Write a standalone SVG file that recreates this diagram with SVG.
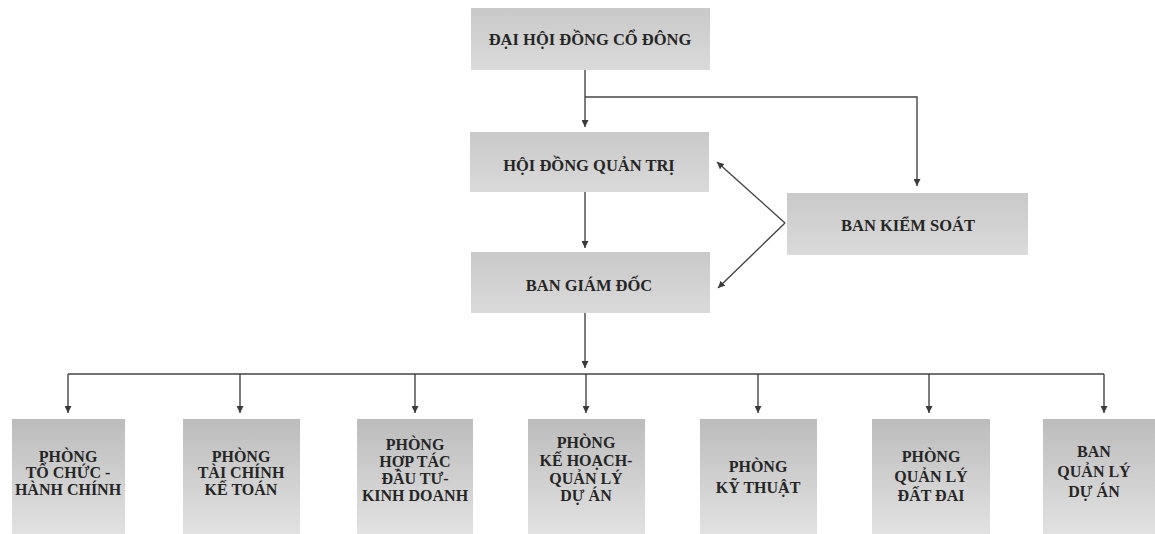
<svg xmlns="http://www.w3.org/2000/svg" width="1155" height="534" viewBox="0 0 1155 534">
<defs>
<linearGradient id="gTop" x1="0" y1="0" x2="0" y2="1">
<stop offset="0" stop-color="#c9c9c9"/>
<stop offset="1" stop-color="#dadada"/>
</linearGradient>
<linearGradient id="gBot" x1="0" y1="0" x2="0" y2="1">
<stop offset="0" stop-color="#bcbcbc"/>
<stop offset="1" stop-color="#e2e2e2"/>
</linearGradient>
<marker id="arr" viewBox="0 0 8 8" refX="8" refY="4" markerWidth="7" markerHeight="7" markerUnits="userSpaceOnUse" orient="auto">
<path d="M0,0 L8,4 L0,8 z" fill="#3a3a3a"/>
</marker>
</defs>
<style>
.box1{fill:url(#gTop);}
.box2{fill:url(#gBot);}
.t{font-family:"Liberation Serif","Times New Roman",serif;font-weight:bold;fill:#262626;text-anchor:middle;}
.tl{font-size:16.5px;}
.ts{font-size:16px;}
.c{fill:none;stroke:#444;stroke-width:1.4;}
</style>
<rect width="1155" height="534" fill="#ffffff"/>
<g id="connectors">
<path class="c" d="M585,70 L585,127" marker-end="url(#arr)"/>
<path class="c" d="M585,97 L917,97 L917,186" marker-end="url(#arr)"/>
<path class="c" d="M585,192 L585,248" marker-end="url(#arr)"/>
<path class="c" d="M785,223 L717,162" marker-end="url(#arr)"/>
<path class="c" d="M785,223 L718,288" marker-end="url(#arr)"/>
<path class="c" d="M585,313 L585,368" marker-end="url(#arr)"/>
<path class="c" d="M68,374 L1104,374"/>
<path class="c" d="M68,374 L68,413" marker-end="url(#arr)"/>
<path class="c" d="M240,374 L240,413" marker-end="url(#arr)"/>
<path class="c" d="M415,374 L415,413" marker-end="url(#arr)"/>
<path class="c" d="M586,374 L586,413" marker-end="url(#arr)"/>
<path class="c" d="M758,374 L758,413" marker-end="url(#arr)"/>
<path class="c" d="M929,374 L929,413" marker-end="url(#arr)"/>
<path class="c" d="M1104,374 L1104,413" marker-end="url(#arr)"/>
</g>
<g id="n-dhdcd">
<rect class="box1" x="471" y="8" width="239" height="62"/>
<text class="t tl" x="590" y="45">ĐẠI HỘI ĐỒNG CỔ ĐÔNG</text>
</g>
<g id="n-hdqt">
<rect class="box1" x="470" y="132" width="239" height="60"/>
<text class="t tl" x="589" y="171">HỘI ĐỒNG QUẢN TRỊ</text>
</g>
<g id="n-bks">
<rect class="box1" x="787" y="193" width="241" height="62"/>
<text class="t tl" x="908" y="231">BAN KIỂM SOÁT</text>
</g>
<g id="n-bgd">
<rect class="box1" x="471" y="252" width="239" height="61"/>
<text class="t tl" x="589" y="291">BAN GIÁM ĐỐC</text>
</g>
<g id="n-tchc">
<rect class="box2" x="12" y="419" width="113" height="115"/>
<text class="t ts" x="68" y="462">PHÒNG</text>
<text class="t ts" x="68" y="478">TỔ CHỨC -</text>
<text class="t ts" x="68" y="495">HÀNH CHÍNH</text>
</g>
<g id="n-tckt">
<rect class="box2" x="183" y="419" width="117" height="115"/>
<text class="t ts" x="241" y="462">PHÒNG</text>
<text class="t ts" x="241" y="478">TÀI CHÍNH</text>
<text class="t ts" x="241" y="495">KẾ TOÁN</text>
</g>
<g id="n-htdt">
<rect class="box2" x="357" y="419" width="116" height="115"/>
<text class="t ts" x="415" y="450">PHÒNG</text>
<text class="t ts" x="415" y="467">HỢP TÁC</text>
<text class="t ts" x="415" y="484">ĐẦU TƯ-</text>
<text class="t ts" x="415" y="501">KINH DOANH</text>
</g>
<g id="n-khql">
<rect class="box2" x="528" y="419" width="117" height="115"/>
<text class="t ts" x="586" y="448">PHÒNG</text>
<text class="t ts" x="586" y="466">KẾ HOẠCH-</text>
<text class="t ts" x="586" y="484">QUẢN LÝ</text>
<text class="t ts" x="586" y="501">DỰ ÁN</text>
</g>
<g id="n-kt">
<rect class="box2" x="700" y="419" width="117" height="115"/>
<text class="t ts" x="758" y="472">PHÒNG</text>
<text class="t ts" x="758" y="493">KỸ THUẬT</text>
</g>
<g id="n-qldd">
<rect class="box2" x="872" y="419" width="118" height="115"/>
<text class="t ts" x="931" y="462">PHÒNG</text>
<text class="t ts" x="931" y="482">QUẢN LÝ</text>
<text class="t ts" x="931" y="501">ĐẤT ĐAI</text>
</g>
<g id="n-bqlda">
<rect class="box2" x="1043" y="419" width="120" height="115"/>
<text class="t ts" x="1094" y="457">BAN</text>
<text class="t ts" x="1094" y="477">QUẢN LÝ</text>
<text class="t ts" x="1094" y="497">DỰ ÁN</text>
</g>
</svg>
